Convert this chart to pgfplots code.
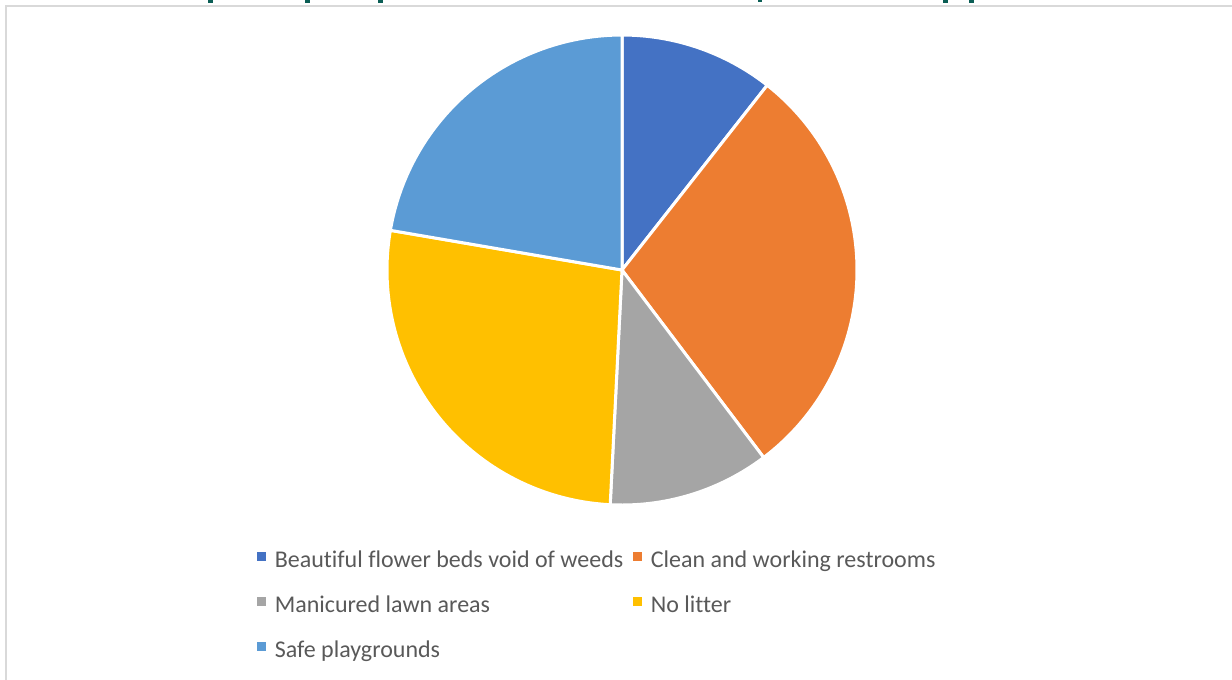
\documentclass[border=0pt]{standalone}
\usepackage{fontspec}
\setmainfont{Carlito}[Ligatures=CommonOff]
\usepackage{pgfplots}
\pgfplotsset{compat=1.18}
\definecolor{cA}{HTML}{4472C4}
\definecolor{cB}{HTML}{ED7D31}
\definecolor{cC}{HTML}{A5A5A5}
\definecolor{cD}{HTML}{FFC000}
\definecolor{cE}{HTML}{5B9BD5}
\definecolor{txt}{HTML}{595959}
\definecolor{frame}{HTML}{D9D9D9}
\definecolor{ttl}{HTML}{0B5E55}
% slice shares (percent), clockwise from 12 o'clock
\def\vA{10.6}\def\vB{29.1}\def\vC{11.1}\def\vD{26.9}\def\vE{22.3}
\pgfmathsetmacro\aA{0}
\pgfmathsetmacro\aB{\aA+3.6*\vA}
\pgfmathsetmacro\aC{\aB+3.6*\vB}
\pgfmathsetmacro\aD{\aC+3.6*\vC}
\pgfmathsetmacro\aE{\aD+3.6*\vD}
\pgfmathsetmacro\aF{\aE+3.6*\vE}
\def\cx{622}\def\cy{270}\def\R{235}
\begin{document}
\begin{tikzpicture}
\begin{axis}[
  scale only axis, width=616bp, height=340bp,
  xmin=0, xmax=1232, ymin=0, ymax=680, y dir=reverse,
  hide axis, clip=true,
  legend columns=2,
  legend cell align=left,
  legend style={draw=none, fill=none, at={(axis cs:251,545)}, anchor=north west,
    font=\fontsize{12bp}{14bp}\selectfont\color{txt},
    nodes={inner sep=0pt, text height=9bp, text depth=3bp},
    row sep=10.5bp,
    /tikz/every odd column/.append style={column sep=4.5bp},
    /tikz/every even column/.append style={column sep=5bp}},
  legend image code/.code={\fill[#1,draw=none] (0bp,0.3bp) rectangle (4.2bp,4.5bp);},
]
\addplot[fill=cA, draw=white, line width=1.5bp, domain=\aA:\aB, samples=40]
  ({\cx+\R*sin(x)},{\cy-\R*cos(x)}) -- (axis cs:\cx,\cy) -- cycle;
\addlegendentry{Beautiful flower beds void of weeds}
\addplot[fill=cB, draw=white, line width=1.5bp, domain=\aB:\aC, samples=80]
  ({\cx+\R*sin(x)},{\cy-\R*cos(x)}) -- (axis cs:\cx,\cy) -- cycle;
\addlegendentry{Clean and working restrooms}
\addplot[fill=cC, draw=white, line width=1.5bp, domain=\aC:\aD, samples=40]
  ({\cx+\R*sin(x)},{\cy-\R*cos(x)}) -- (axis cs:\cx,\cy) -- cycle;
\addlegendentry{Manicured lawn areas}
\addplot[fill=cD, draw=white, line width=1.5bp, domain=\aD:\aE, samples=80]
  ({\cx+\R*sin(x)},{\cy-\R*cos(x)}) -- (axis cs:\cx,\cy) -- cycle;
\addlegendentry{No litter}
\addplot[fill=cE, draw=white, line width=1.5bp, domain=\aE:\aF, samples=80]
  ({\cx+\R*sin(x)},{\cy-\R*cos(x)}) -- (axis cs:\cx,\cy) -- cycle;
\addlegendentry{Safe playgrounds}
% chart frame
\draw[frame, line width=1bp] (axis cs:6,680) -- (axis cs:6,6) -- (axis cs:1232,6);
% descenders of the cut-off title
\fill[ttl] (axis cs:208,0) rectangle (axis cs:213,3);
\fill[ttl] (axis cs:305,0) rectangle (axis cs:310,3);
\fill[ttl] (axis cs:378,0) rectangle (axis cs:383,3);
\fill[ttl] (axis cs:943,0) rectangle (axis cs:948,3);
\fill[ttl] (axis cs:969,0) rectangle (axis cs:974,3);
\fill[ttl] (axis cs:758,0) rectangle (axis cs:762,2);
\end{axis}
\pgfresetboundingbox
\path (0,0) rectangle (616bp,340bp);
\end{tikzpicture}
\end{document}
